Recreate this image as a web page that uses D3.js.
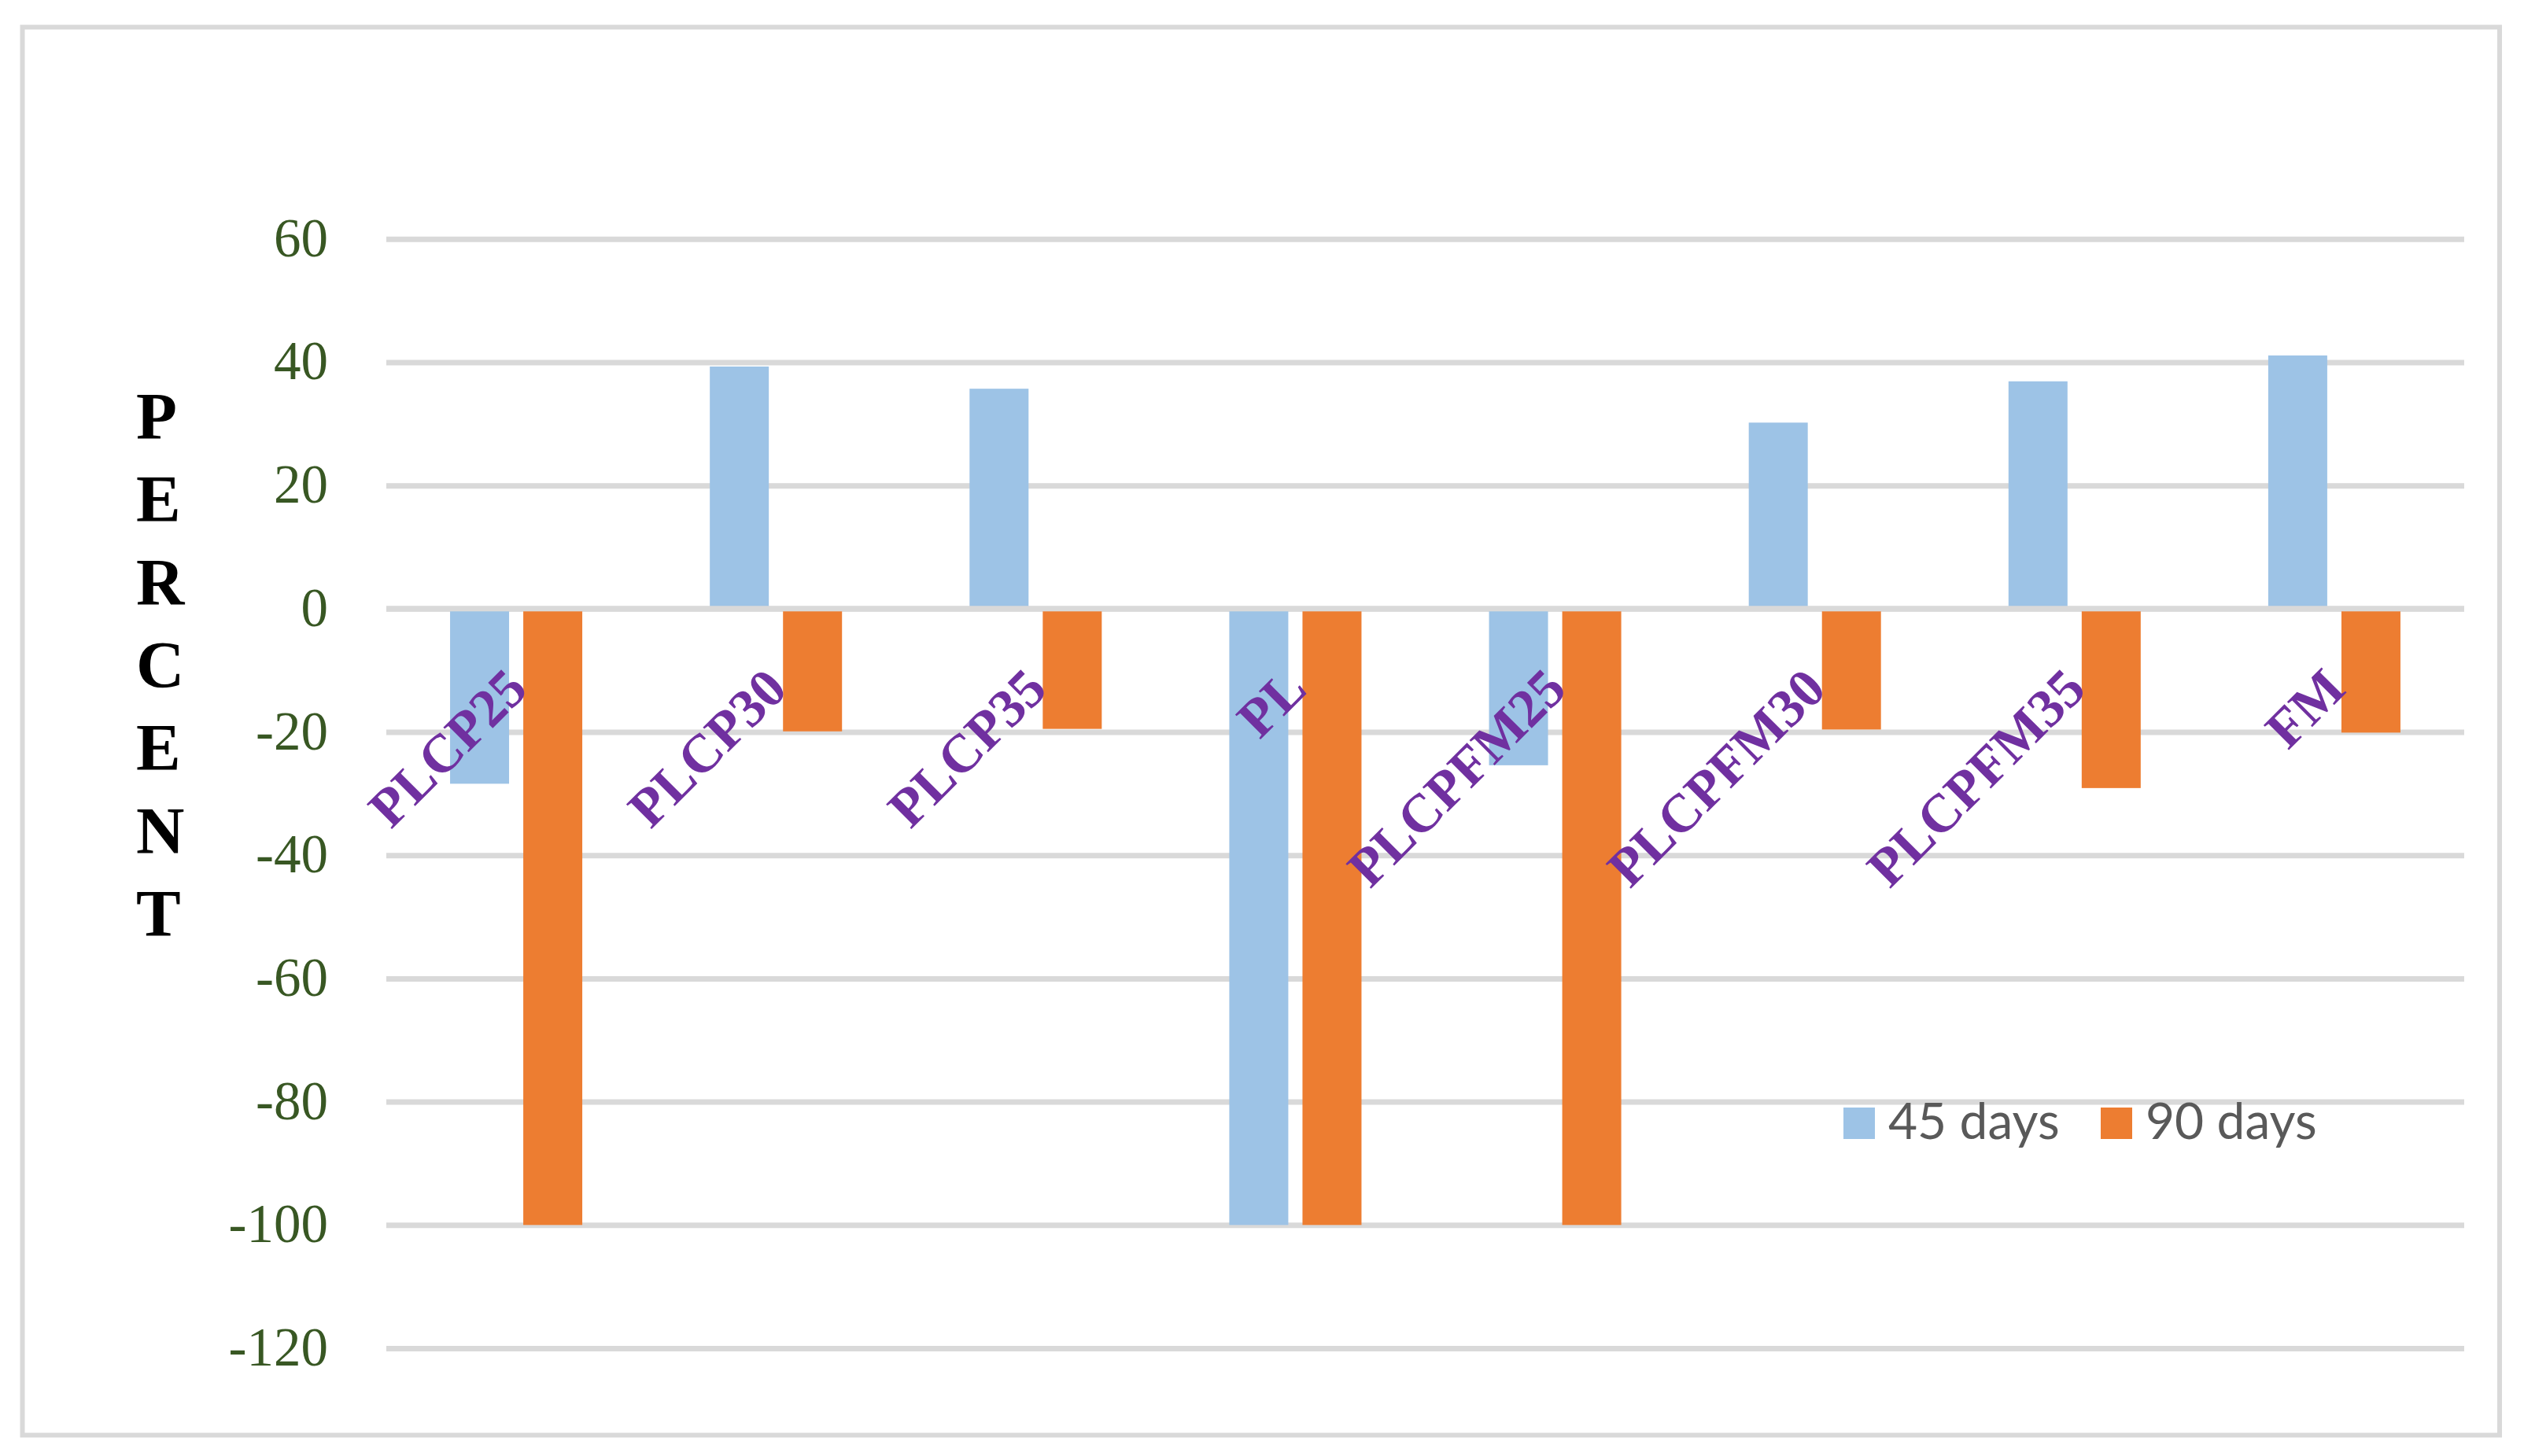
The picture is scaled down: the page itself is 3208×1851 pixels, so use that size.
<!DOCTYPE html>
<html>
<head>
<meta charset="utf-8">
<script src="https://cdn.jsdelivr.net/npm/d3@7"></script>
<style>
  html, body { margin: 0; padding: 0; background: #ffffff; }
  svg { display: block; }
</style>
</head>
<body>
<svg id="chart" width="3208" height="1851"></svg>
<script>
// ---- data ----
const categories = ["PLCP25", "PLCP30", "PLCP35", "PL", "PLCPFM25", "PLCPFM30", "PLCPFM35", "FM"];
const seriesNames = ["45 days", "90 days"];
const days45 = [-28.4, 39.3, 35.7, -100, -25.4, 30.2, 36.9, 41.1];
const days90 = [-100, -19.9, -19.5, -100, -100, -19.6, -29.1, -20.1];
const yTicks = [60, 40, 20, 0, -20, -40, -60, -80, -100, -120];
const axisTitleLetters = ["P", "E", "R", "C", "E", "N", "T"];

// ---- layout ----
const W = 3208, H = 1851;
const plot = { left: 491, right: 3132, top: 303.8, bottom: 1714 };
const colors = { "45 days": "#9DC3E6", "90 days": "#ED7D31" };
const grid = "#d9d9d9";

const svg = d3.select("#chart");
svg.append("rect").attr("width", W).attr("height", H).attr("fill", "#fff");

// chart border
svg.append("rect")
  .attr("x", 28.5).attr("y", 34.5)
  .attr("width", 3177 - 28.5).attr("height", 1824.5 - 34.5)
  .attr("fill", "none").attr("stroke", grid).attr("stroke-width", 6);

const y = d3.scaleLinear().domain([-120, 60]).range([plot.bottom, plot.top]);
const x0 = d3.scaleBand().domain(categories).range([plot.left, plot.right]).padding(0);
const bw = x0.bandwidth();
const x1 = d3.scaleBand().domain(seriesNames)
  .range([bw * 0.2455, bw * 0.7545]).paddingInner(0.194).paddingOuter(0);

// gridlines (via axis)
const gAxis = svg.append("g").attr("transform", `translate(${plot.left},0)`)
  .call(d3.axisLeft(y).tickValues(yTicks).tickSize(-(plot.right - plot.left)).tickFormat(d => d));
gAxis.select(".domain").remove();
gAxis.selectAll(".tick line").attr("stroke", grid).attr("stroke-width", 7);
gAxis.selectAll(".tick text")
  .attr("x", 417 - plot.left)
  .attr("dy", null).attr("y", 21.5)
  .attr("text-anchor", "end")
  .attr("fill", "#385723")
  .style("font-family", "'Liberation Serif', 'Times New Roman', serif")
  .style("font-size", "69px");
gAxis.selectAll(".tick text").text(d => d < 0 ? "-" + Math.abs(d) : String(d));

// bars
const rows = categories.map((c, i) => ({ cat: c, vals: [
  { s: "45 days", v: days45[i] }, { s: "90 days", v: days90[i] } ] }));
const groups = svg.append("g").selectAll("g").data(rows).join("g")
  .attr("transform", d => `translate(${x0(d.cat)},0)`);
groups.selectAll("rect").data(d => d.vals).join("rect")
  .attr("x", d => x1(d.s))
  .attr("width", x1.bandwidth())
  .attr("y", d => Math.min(y(d.v), y(0)))
  .attr("height", d => Math.abs(y(d.v) - y(0)))
  .attr("fill", d => colors[d.s]);

// horizontal axis line on top of bars
svg.append("line")
  .attr("x1", plot.left).attr("x2", plot.right)
  .attr("y1", y(0)).attr("y2", y(0))
  .attr("stroke", grid).attr("stroke-width", 7);

// category labels
svg.append("g").selectAll("text").data(categories).join("text")
  .attr("transform", d => `translate(${x0(d) + bw / 2 + 17},${879}) rotate(-45)`)
  .attr("text-anchor", "end")
  .attr("fill", "#7030A0")
  .style("font-family", "'Liberation Serif', 'Times New Roman', serif")
  .style("font-weight", "bold")
  .style("font-size", "69px")
  .text(d => d);

// vertical axis title, stacked letters
svg.append("g").selectAll("text").data(axisTitleLetters).join("text")
  .attr("x", 173)
  .attr("y", (d, i) => 558 + 105.3 * i)
  .attr("fill", "#000")
  .style("font-family", "'Liberation Serif', 'Times New Roman', serif")
  .style("font-weight", "bold")
  .style("font-size", "85px")
  .text(d => d);

// legend
const legendX = [2343, 2670];
const lg = svg.append("g").selectAll("g").data(seriesNames).join("g")
  .attr("transform", (d, i) => `translate(${legendX[i]},1408)`);
lg.append("rect").attr("width", 40).attr("height", 40).attr("fill", d => colors[d]);
lg.append("text").attr("x", 57).attr("y", 40)
  .attr("fill", "#595959")
  .style("font-family", "Lato, 'Open Sans', sans-serif")
  .style("font-size", "64px")
  .text(d => d);
</script>
</body>
</html>
